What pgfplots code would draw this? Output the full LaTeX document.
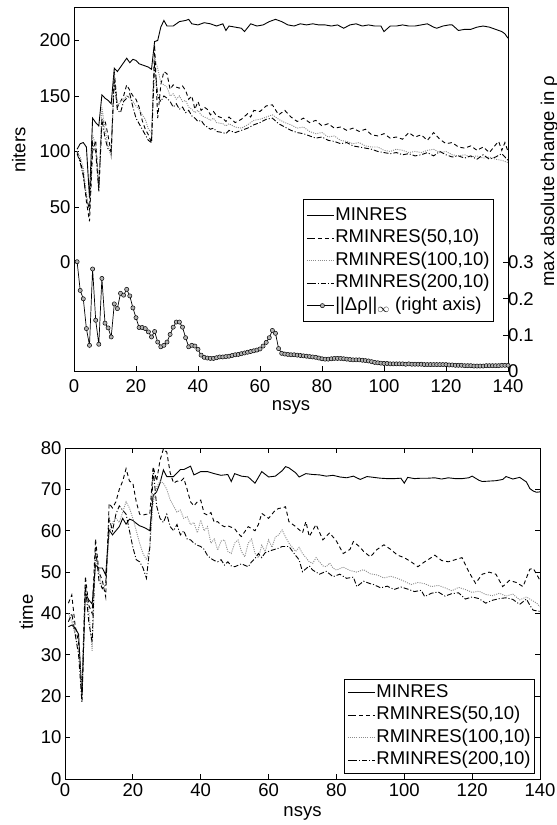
\documentclass[border=0pt]{standalone}
\usepackage{fontspec}
\setmainfont{Liberation Sans}
\usepackage{pgfplots}
\pgfplotsset{compat=1.18}
\newcommand\cf{\fontsize{18.5}{22.5}\selectfont}

\pgfplotsset{
  matlab/.style={
    scale only axis,
    xmin=0, xmax=140,
    xtick={0,20,...,140},
    tick align=inside,
    major tick length=5pt,
    axis line style={line width=1pt, black},
    tick style={line width=0.8pt, black},
    /pgf/number format/assume math mode=true,
    tick label style={font=\cf},
    label style={font=\cf},
    legend cell align=left,
    legend image code/.code={%
      \path (-4pt,0pt) -- (0pt,0pt);
      \draw[mark repeat=2,mark phase=2,##1]
        plot coordinates {(0pt,0pt) (11.5pt,0pt) (23pt,0pt)};},
  },
  mleg/.style={font=\cf, draw=black, line width=0.8pt, fill=white,
    inner xsep=3pt, row sep=0pt,
    nodes={inner ysep=0pt, inner xsep=1pt, text height=15.75pt, text depth=6.75pt}},
  minres/.style={black, line width=0.9pt},
  r50/.style={black, line width=0.9pt, dash pattern=on 4pt off 3pt},
  r100/.style={black!45, line width=0.9pt, dash pattern=on 1pt off 1.2pt},
  r200/.style={black, line width=0.9pt, dash pattern=on 5pt off 2pt on 1pt off 2pt},
  rho/.style={black, line width=0.7pt, mark=*, mark size=2.1pt,
    mark options={solid, fill=black!30, draw=black, line width=0.5pt}},
}

\begin{document}
\begin{tikzpicture}
\useasboundingbox (0,0) rectangle (557pt,825pt);

% ---------------- top panel: iterations ----------------
\begin{axis}[matlab,
  at={(74pt,453.5pt)}, anchor=south west,
  width=434pt, height=363.5pt,
  ymin=-98.25, ymax=229.25,
  ytick={0,50,...,200},
  xtick pos=left, ytick pos=left,
  xticklabel style={yshift=-5pt},
  xlabel={nsys}, ylabel={niters},
  xlabel style={at={(axis description cs:0.5,-0.1)}, anchor=center},
  ylabel style={at={(axis description cs:-0.111,0.609)}, anchor=south, inner sep=0pt},
]
\addplot[minres] coordinates {
(1,102) (2,107) (3,108) (4,104) (5,58) (6,130) (7,126) (8,123) (9,151) (10,148)
(11,146) (12,143) (13,175) (14,172) (15,176) (16,180) (17,184) (18,180) (19,183) (20,182)
(21,179) (22,178) (23,177) (24,176) (25,174) (26,199) (27,200) (28,212) (29,218) (30,213)
(32,213) (34,217) (36,218) (37,219) (38,215) (40,214) (42,216) (44,215) (46,213) (48,215)
(49,209) (50,213) (52,212) (54,211) (55,208) (57,215) (59,213) (61,214) (63,217) (65,219)
(67,217) (69,214) (71,213) (73,215) (75,214) (77,215) (79,214) (81,214) (83,213) (85,214)
(87,211) (89,214) (91,215) (93,213) (95,214) (97,213) (99,213) (100,208) (102,213) (104,213)
(106,214) (108,213) (110,213) (112,214) (114,215) (116,212) (117,211) (119,213) (121,214) (122,214)
(124,209) (126,210) (128,210) (130,212) (132,213) (134,212) (136,210) (138,208) (139,206) (140,202)
};
\addplot[r50] coordinates {
(1,100) (2,92) (3,80) (4,55) (5,37) (6,100) (7,110) (8,66) (9,125) (10,128)
(11,114) (12,99) (13,172) (14,140) (15,145) (16,150) (17,160) (18,155) (19,150) (20,147)
(21,140) (22,128) (23,120) (24,115) (25,108) (26,196) (27,130) (28,160) (29,172) (30,170)
(31,156) (32,160) (33,158) (34,157) (35,159) (36,155) (37,147) (38,150) (39,138) (40,145)
(41,137) (42,140) (43,138) (44,133) (45,136) (46,132) (48,130) (49,127) (50,131) (52,126)
(54,129) (56,134) (57,131) (58,137) (60,136) (62,141) (64,142) (66,133) (68,137) (70,131)
(72,127) (74,130) (76,126) (78,128) (80,123) (82,125) (84,121) (86,122) (88,119) (90,121)
(92,118) (94,120) (96,115) (98,114) (100,116) (102,112) (104,113) (106,111) (108,117) (110,113)
(112,115) (114,110) (116,117) (118,111) (120,107) (122,108) (124,104) (126,103) (128,105) (130,101)
(132,104) (134,99) (136,106) (137,109) (138,101) (139,108) (140,100)
};
\addplot[r100] coordinates {
(1,100) (2,95) (3,85) (4,62) (5,45) (6,115) (7,105) (8,70) (9,140) (10,120)
(11,105) (12,95) (13,170) (14,141) (15,145) (16,147) (17,150) (18,148) (19,145) (20,141)
(21,138) (22,133) (23,129) (24,120) (25,117) (26,185) (27,175) (28,162) (29,160) (30,158)
(31,150) (32,152) (33,147) (34,150) (35,145) (36,146) (37,140) (38,138) (39,135) (40,137)
(41,133) (42,131) (43,130) (44,128) (45,130) (46,126) (48,125) (49,123) (50,125) (52,122)
(54,121) (56,124) (58,128) (60,129) (62,131) (64,133) (66,129) (68,126) (70,124) (72,121)
(74,122) (76,118) (78,116) (80,117) (82,113) (84,114) (86,110) (88,109) (90,107) (92,108)
(94,105) (96,104) (98,104) (100,101) (102,100) (104,102) (106,101) (108,99) (110,100) (112,99)
(114,101) (116,102) (118,99) (120,100) (122,97) (124,96) (126,97) (128,95) (130,96) (132,94)
(134,95) (136,93) (138,92) (140,90)
};
\addplot[r200] coordinates {
(1,98) (2,90) (3,78) (4,58) (5,48) (6,108) (7,100) (8,64) (9,130) (10,112)
(11,102) (12,100) (13,165) (14,137) (15,135) (16,145) (17,148) (18,152) (19,140) (20,130)
(21,125) (22,120) (23,115) (24,110) (25,108) (26,180) (27,150) (28,145) (29,150) (30,148)
(31,145) (32,140) (33,143) (34,138) (35,140) (36,135) (37,137) (38,132) (39,130) (40,127)
(41,128) (42,124) (43,122) (44,120) (45,121) (46,118) (48,117) (49,116) (50,119) (52,117)
(54,119) (56,121) (58,124) (60,126) (62,129) (64,130) (66,125) (68,122) (70,119) (72,117)
(74,116) (76,114) (78,112) (80,113) (82,110) (84,109) (86,107) (88,108) (90,105) (92,104)
(94,103) (96,102) (98,100) (100,99) (102,98) (104,99) (106,97) (108,98) (110,96) (112,97)
(114,99) (116,96) (118,100) (120,97) (122,95) (124,96) (126,94) (128,96) (130,93) (132,97)
(134,93) (136,95) (138,98) (140,92)
};
\end{axis}

% right axis: max absolute change in rho
\begin{axis}[matlab,
  at={(74pt,453.5pt)}, anchor=south west,
  width=434pt, height=363.5pt,
  ymin=0, ymax=1,
  axis y line*=right, axis x line=none,
  ytick={0,0.1,0.2,0.3},
  yticklabel style={xshift=-3.5pt, inner ysep=0pt},
  ylabel={max absolute change in ρ},
  ylabel style={at={(axis description cs:1.075,0.524)}, anchor=north, inner sep=0pt},
  legend style={mleg, inner ysep=5pt,
    at={(axis description cs:0.9677,0.4746)}, anchor=north east},
]
\addlegendimage{minres}\addlegendentry{MINRES}
\addlegendimage{r50}\addlegendentry{RMINRES(50,10)}
\addlegendimage{r100}\addlegendentry{RMINRES(100,10)}
\addlegendimage{r200}\addlegendentry{RMINRES(200,10)}
\addplot[rho] coordinates {
(1,0.302) (2,0.223) (3,0.200) (4,0.118) (5,0.072) (6,0.282) (7,0.141) (8,0.075) (9,0.256) (10,0.133)
(11,0.120) (12,0.095) (13,0.186) (14,0.173) (15,0.215) (16,0.210) (17,0.226) (18,0.208) (19,0.175) (20,0.148)
(21,0.121) (22,0.121) (23,0.118) (24,0.109) (25,0.095) (26,0.110) (27,0.081) (28,0.068) (29,0.072) (30,0.081)
(31,0.102) (32,0.122) (33,0.136) (34,0.136) (35,0.122) (36,0.093) (37,0.068) (38,0.072) (39,0.070) (40,0.061)
(41,0.045) (42,0.039) (43,0.037) (44,0.036) (45,0.036) (46,0.038) (47,0.040) (48,0.040) (49,0.041) (50,0.042)
(51,0.044) (52,0.046) (53,0.047) (54,0.049) (55,0.051) (56,0.053) (57,0.055) (58,0.057) (59,0.059) (60,0.062)
(61,0.070) (62,0.080) (63,0.093) (64,0.113) (65,0.105) (66,0.063) (67,0.050) (68,0.048) (69,0.047) (70,0.046)
(71,0.046) (72,0.045) (73,0.044) (74,0.043) (75,0.042) (76,0.041) (77,0.040) (78,0.039) (79,0.037) (80,0.035)
(81,0.034) (82,0.034) (83,0.035) (84,0.036) (85,0.036) (86,0.036) (87,0.035) (88,0.034) (89,0.033) (90,0.032)
(91,0.032) (92,0.032) (93,0.031) (94,0.030) (95,0.029) (96,0.027) (97,0.025) (98,0.024) (99,0.023) (100,0.022)
(101,0.022) (102,0.021) (103,0.021) (104,0.021) (105,0.021) (106,0.021) (107,0.020) (108,0.021) (109,0.020) (110,0.020)
(111,0.020) (112,0.020) (113,0.019) (114,0.019) (115,0.019) (116,0.019) (117,0.019) (118,0.019) (119,0.019) (120,0.019)
(121,0.018) (122,0.018) (123,0.017) (124,0.017) (125,0.017) (126,0.016) (127,0.016) (128,0.016) (129,0.015) (130,0.015)
(131,0.015) (132,0.015) (133,0.016) (134,0.016) (135,0.016) (136,0.016) (137,0.016) (138,0.017) (139,0.017) (140,0.017)
};
\addlegendentry{||Δρ||$_\infty$ (right axis)}
\end{axis}

% ---------------- bottom panel: time ----------------
\begin{axis}[matlab,
  at={(65pt,46pt)}, anchor=south west,
  width=475pt, height=331pt,
  ymin=0, ymax=80,
  ytick={0,10,...,80},
  xticklabel style={yshift=-1.5pt},
  xlabel={nsys}, ylabel={time},
  xlabel style={at={(axis description cs:0.5,-0.1027)}, anchor=center},
  ylabel style={at={(axis description cs:-0.0667,0.505)}, anchor=south, inner sep=0pt},
  legend style={mleg, inner ysep=2pt,
    at={(axis description cs:0.9895,0.0151)}, anchor=south east},
]
\addplot[minres] coordinates {
(1,36.8) (2,37.2) (3,36.5) (4,35) (5,20) (6,44.9) (7,43.3) (8,42.3) (9,51.7) (10,51)
(11,51) (12,49.3) (13,60.2) (14,59) (15,60) (16,61) (17,63) (18,61.6) (19,62.8) (20,62.5)
(21,61.8) (22,61.2) (23,60.9) (24,60.5) (25,60) (26,68.6) (27,69.4) (28,71.5) (29,74.7) (30,73.1)
(32,73.1) (34,74.8) (35,74.8) (37,75.6) (38,73.5) (40,74.3) (42,74.3) (44,73.8) (46,73.4) (48,73.6)
(49,71.9) (50,73.8) (52,73.2) (54,73.0) (56,71.5) (58,74.3) (60,73.0) (62,73.2) (64,74.5) (65,75.5)
(66,75.2) (68,74.0) (69,73.0) (71,73.8) (73,73.6) (75,73.5) (77,73.2) (79,73.4) (81,73.0) (83,72.8)
(85,73.2) (87,72.4) (89,73.1) (91,72.9) (93,72.7) (95,72.6) (97,72.6) (99,72.7) (100,71.5) (101,72.9)
(103,72.6) (105,72.7) (107,72.7) (109,72.8) (111,72.5) (113,72.8) (115,72.6) (117,72.6) (119,72.8) (120,73.2)
(122,72.2) (123,71.9) (125,72.0) (127,72.1) (129,72.4) (130,73.1) (132,72.5) (134,72.9) (136,71.8) (137,70.2)
(138,69.6) (139,69.3) (140,69.4)
};
\addlegendentry{MINRES}
\addplot[r50] coordinates {
(1,42.5) (2,44.5) (3,37) (4,33) (5,21) (6,49) (7,42) (8,40) (9,58) (10,50)
(11,48) (12,44) (13,66.6) (14,65.5) (15,67) (16,70) (17,72) (18,75) (19,72) (20,71.5)
(21,67) (22,64) (23,63.8) (24,64) (25,64) (26,75.5) (27,72) (28,77) (29,79.8) (30,79)
(31,74) (32,71.5) (33,72) (34,71.9) (35,72.7) (36,70) (37,67) (38,66) (39,67) (40,67.4)
(41,64.2) (42,63.8) (43,64.4) (44,62) (45,62.2) (46,61.4) (47,61) (48,61.2) (50,60.5) (51,59.4)
(52,58.6) (54,61) (56,60) (57,61.5) (58,64.2) (60,63) (62,65) (63,65.4) (64,65.5) (65,65.8)
(66,62.2) (68,61) (70,59.5) (71,62.2) (72,58.6) (74,61.5) (76,57.8) (78,59.5) (80,57.5) (82,54.5)
(84,55.5) (85,57.4) (87,56) (88,55) (90,53.7) (92,55.5) (94,56.6) (96,55.5) (98,54.1) (100,53.5)
(102,52.5) (104,51.3) (106,52.5) (107,53) (109,54.1) (111,52.8) (113,52.5) (115,53) (117,53.5) (119,50.1)
(121,47.3) (123,49.5) (125,50) (127,49.5) (129,46.5) (131,48) (133,47.5) (135,46.5) (137,50.7) (138,50.9)
(139,49.5) (140,48)
};
\addlegendentry{RMINRES(50,10)}
\addplot[r100] coordinates {
(1,40) (2,38) (3,35) (4,31) (5,22) (6,46) (7,41) (8,31) (9,54) (10,50)
(11,46) (12,47) (13,59) (14,62) (15,63) (16,62) (17,64.5) (18,67) (19,65.5) (20,63)
(21,60) (22,57) (23,54.5) (24,53) (25,56) (26,67) (27,70.5) (28,72) (29,71.5) (30,70)
(31,67.5) (32,66) (33,64.5) (34,65) (35,63) (36,63.4) (37,61.5) (38,62) (39,59.5) (40,62.6)
(41,60) (42,61) (43,57) (44,58) (45,55.3) (46,57.5) (47,57.8) (48,55) (49,54.5) (50,57)
(51,57.8) (52,55) (53,53.7) (54,57) (55,58) (56,54.5) (57,53.5) (58,56.5) (59,55) (60,57.8)
(61,56) (62,58.5) (63,59) (64,60.2) (65,58.5) (66,57) (67,56) (68,55) (69,56) (70,54.5)
(71,53.5) (72,52.5) (73,52.1) (74,53.5) (75,52.5) (76,51.5) (77,51.3) (78,52.2) (79,51) (80,50.5)
(82,51.2) (84,50.4) (86,50) (88,50.6) (90,49.6) (92,49.3) (94,48.6) (96,49) (98,48.5) (100,47.8)
(102,47) (104,47.5) (106,47.2) (108,46.5) (110,46.8) (112,46.2) (114,45.5) (116,46.3) (118,45.8) (120,45.1)
(122,45.4) (124,44.6) (126,44.3) (128,44.9) (130,44.2) (132,44.7) (134,43.3) (136,44) (138,43) (139,42.5)
(140,41.6)
};
\addlegendentry{RMINRES(100,10)}
\addplot[r200] coordinates {
(1,38) (2,40) (3,35) (4,30) (5,18.4) (6,47) (7,38) (8,33) (9,56) (10,48)
(11,46) (12,47) (13,63) (14,60) (15,64) (16,66) (17,65) (18,64) (19,60) (20,56)
(21,53) (22,52.5) (23,51) (24,48.5) (25,56) (26,75) (27,66) (28,63) (29,62) (30,64)
(31,61) (32,60) (33,61.5) (34,59) (35,60) (36,58) (37,57.8) (38,57) (39,56.5) (40,56.2)
(41,55.5) (42,54) (43,53.3) (44,52.8) (45,52.5) (46,53) (47,51.7) (48,52.5) (49,51.5) (50,51.3)
(52,52) (54,51.3) (55,52.5) (56,53.3) (57,54.5) (58,53.5) (59,54.7) (61,55.3) (63,55.8) (64,56.2)
(66,56.2) (68,54) (69,53) (70,50.1) (72,51.5) (73,50.5) (75,49.5) (77,50.2) (79,48.9) (81,49.5)
(83,48.5) (85,48.8) (86,46.5) (88,47.8) (90,47.2) (91,47) (93,46.2) (95,46.6) (97,45.8) (99,46.4)
(101,45.9) (103,45.3) (105,45.6) (106,44.1) (108,44.9) (110,45.2) (112,44.2) (114,44.8) (116,45) (118,43.5)
(120,44) (122,43.6) (124,42.5) (126,43.2) (128,43.6) (130,43.8) (132,43.4) (134,42.2) (136,43.5) (137,42)
(138,40.8) (140,40.5)
};
\addlegendentry{RMINRES(200,10)}
\end{axis}
\end{tikzpicture}
\end{document}
